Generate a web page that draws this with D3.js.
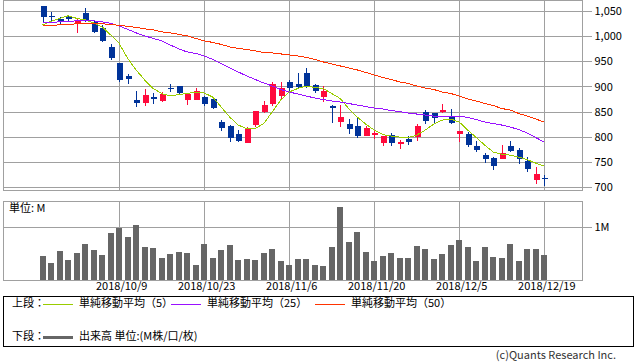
<!DOCTYPE html>
<html>
<head>
<meta charset="utf-8">
<script src="https://cdn.jsdelivr.net/npm/d3@7"></script>
<style>
  body { margin: 0; background: #fff; }
  #svg-container { width: 638px; height: 362px; }
  svg text { font-family: "Noto Sans CJK JP", "DejaVu Sans", sans-serif; font-size: 11px; fill: #000; }
</style>
</head>
<body>
<div id="svg-container"></div>
<script>
////////////////////////////////////////////////////////////////////
////////////////////////////  Data  ////////////////////////////////

const dates = [
  "2018/9/25", "2018/9/26", "2018/9/27", "2018/9/28", "2018/10/1", "2018/10/2", "2018/10/3", "2018/10/4", "2018/10/5",
  "2018/10/9", "2018/10/10", "2018/10/11", "2018/10/12", "2018/10/15", "2018/10/16", "2018/10/17", "2018/10/18", "2018/10/19",
  "2018/10/22", "2018/10/23", "2018/10/24", "2018/10/25", "2018/10/26", "2018/10/29", "2018/10/30", "2018/10/31", "2018/11/1",
  "2018/11/2", "2018/11/5", "2018/11/6", "2018/11/7", "2018/11/8", "2018/11/9", "2018/11/12", "2018/11/13", "2018/11/14",
  "2018/11/15", "2018/11/16", "2018/11/19", "2018/11/20", "2018/11/21", "2018/11/22", "2018/11/26", "2018/11/27", "2018/11/28",
  "2018/11/29", "2018/11/30", "2018/12/3", "2018/12/4", "2018/12/5", "2018/12/6", "2018/12/7", "2018/12/10", "2018/12/11",
  "2018/12/12", "2018/12/13", "2018/12/14", "2018/12/17", "2018/12/18", "2018/12/19"
];

const open = [1061, 1041, 1034, 1038, 1027, 1046, 1029, 1017, 979, 947, 921, 873, 867, 879, 871, 897, 901, 873, 873, 880,
  875, 829, 821, 805, 787, 823, 850, 865, 881, 909, 904, 927, 902, 879, 861, 829, 825, 821, 801, 803,
  787, 803, 785, 795, 799, 849, 847, 849, 842, 805, 805, 781, 763, 757, 755, 781, 773, 751, 713, 718];
const high = [1061, 1049, 1039, 1040, 1036, 1057, 1033, 1023, 985, 947, 925, 891, 895, 886, 889, 904, 901, 885, 897, 881,
  876, 833, 823, 813, 819, 851, 871, 909, 909, 913, 927, 937, 905, 901, 864, 864, 835, 839, 821, 811,
  801, 807, 793, 801, 826, 853, 847, 865, 855, 811, 809, 791, 767, 759, 783, 791, 777, 759, 739, 723];
const low = [1029, 1029, 1023, 1030, 1006, 1029, 1006, 989, 953, 909, 905, 859, 861, 865, 869, 888, 883, 863, 873, 862,
  855, 811, 789, 789, 787, 819, 847, 861, 873, 891, 896, 897, 887, 869, 827, 819, 805, 797, 801, 795,
  781, 781, 775, 783, 791, 825, 827, 847, 825, 789, 779, 769, 747, 733, 755, 769, 745, 729, 705, 701];
const close = [1039, 1039, 1032, 1034, 1033, 1033, 1009, 991, 957, 913, 915, 867, 883, 875, 885, 896, 886, 885, 891, 865,
  857, 817, 797, 791, 815, 851, 863, 905, 897, 897, 898, 898, 891, 891, 860, 839, 815, 801, 817, 807,
  801, 787, 789, 789, 822, 831, 837, 853, 827, 811, 783, 773, 755, 741, 767, 771, 755, 735, 725, 717];

// 出来高 (M)
const volume = [0.45, 0.32, 0.54, 0.375, 0.51, 0.675, 0.56, 0.47, 0.88, 0.975, 0.81, 1.03, 0.62, 0.6, 0.41, 0.49, 0.525, 0.51,
  0.28, 0.675, 0.41, 0.56, 0.66, 0.375, 0.39, 0.375, 0.51, 0.58, 0.36, 0.28, 0.39, 0.39, 0.28, 0.26, 0.62, 1.37,
  0.71, 0.9, 0.525, 0.36, 0.45, 0.51, 0.41, 0.41, 0.64, 0.58, 0.39, 0.49, 0.66, 0.75, 0.62, 0.36, 0.62, 0.43,
  0.41, 0.675, 0.36, 0.58, 0.58, 0.47];

// 単純移動平均
const ma5 = [1023, 1030, 1036, 1041, 1036, 1033, 1027, 1019, 1003, 986, 956, 933, 913, 896, 886, 881, 884, 886,
  889, 887, 879, 859, 839, 823, 816, 816, 826, 849, 873, 889, 896, 901, 898, 896, 886, 876,
  856, 839, 825, 813, 804, 801, 799, 798, 803, 813, 825, 833, 835, 829, 813, 798, 783,
  769, 765, 763, 759, 754, 747, 741];
const ma25 = [1028, 1028, 1029, 1030, 1031, 1031, 1031, 1029, 1026, 1021, 1014, 1007, 1001, 996, 991, 983, 975, 969,
  966, 961, 954, 946, 937, 929, 921, 914, 907, 901, 894, 889, 885, 881, 877, 874, 871, 869,
  866, 863, 860, 857, 855, 852, 850, 847, 845, 843, 841, 841, 841, 841, 838, 834, 829,
  826, 823, 819, 814, 807, 798, 789];
const ma50 = [1021, 1022, 1023, 1024, 1025, 1026, 1026, 1025, 1024, 1022, 1020, 1018, 1015, 1013, 1009, 1007, 1004, 1001,
  996, 991, 988, 984, 979, 976, 974, 971, 968, 967, 965, 963, 961, 958, 954, 949, 945, 941,
  937, 933, 928, 923, 918, 914, 909, 906, 901, 897, 894, 889, 886, 881, 875, 871, 866,
  862, 856, 853, 846, 841, 835, 829];

const priceTicks = [700, 750, 800, 850, 900, 950, 1000, 1050];
const volTicks = [1];
const dateTicks = ["2018/10/9", "2018/10/23", "2018/11/6", "2018/11/20", "2018/12/5", "2018/12/19"];

////////////////////////////////////////////////////////////////////
////////////////////////////  Init  ////////////////////////////////

const width = 638;
const height = 362;
const plot = { left: 3.5, right: 582.5 };
const pricePanel = { top: 0.5, bottom: 190 };
const volPanel = { top: 201.5, bottom: 280 };

const upColor = "#ff0a3c";
const downColor = "#003399";
const gridColor = "#a0a0a0";
const maColors = ["#99cc00", "#9911ff", "#ff3300"];

const svg = d3.select("#svg-container").append("svg")
  .attr("width", width)
  .attr("height", height);

// scale
const x = d3.scalePoint().domain(dates).range([42.6, 544.3]);
const yPrice = d3.scaleLinear().domain([693.4, 1071.6]).range([pricePanel.bottom, pricePanel.top]);
const yVol = d3.scaleLinear().domain([0, 1.476]).range([volPanel.bottom, volPanel.top]);

const candles = dates.map((d, i) => ({
  date: d, o: open[i], h: high[i], l: low[i], c: close[i], v: volume[i]
}));

////////////////////////////////////////////////////////////////////
////////////////////////////  Grid / axes  /////////////////////////

const styleAxis = (g) => {
  g.select(".domain").remove();
  g.selectAll("line").attr("stroke", gridColor).attr("shape-rendering", "crispEdges");
  g.selectAll("text").attr("font-size", null).attr("font-family", null);
};

// price y grid + labels (ticks run across the panel and past its right edge)
svg.append("g")
  .attr("transform", `translate(${plot.left},0)`)
  .call(d3.axisRight(yPrice).tickValues(priceTicks).tickSize(592 - plot.left).tickPadding(2.5).tickFormat(d3.format(",")))
  .call(styleAxis);

// volume y grid + label
svg.append("g")
  .attr("transform", `translate(${plot.left},0)`)
  .call(d3.axisRight(yVol).tickValues(volTicks).tickSize(592 - plot.left).tickPadding(2.5).tickFormat((d) => d + "M"))
  .call(styleAxis);

// vertical grid, price panel
svg.append("g")
  .attr("transform", `translate(0,${pricePanel.bottom})`)
  .call(d3.axisBottom(x).tickValues(dateTicks).tickSize(-(pricePanel.bottom - pricePanel.top)).tickFormat(""))
  .call(styleAxis);

// vertical grid + date labels, volume panel
svg.append("g")
  .attr("transform", `translate(0,${volPanel.bottom})`)
  .call(d3.axisBottom(x).tickValues(dateTicks).tickSize(-(volPanel.bottom - volPanel.top)).tickPadding(2))
  .call(styleAxis)
  .selectAll("text").attr("dx", 2);

// panel frames
[pricePanel, volPanel].forEach((p) => {
  svg.append("rect")
    .attr("x", plot.left)
    .attr("y", p.top)
    .attr("width", plot.right - plot.left)
    .attr("height", p.bottom - p.top)
    .attr("fill", "none")
    .attr("stroke", gridColor)
    .attr("shape-rendering", "crispEdges");
});

////////////////////////////////////////////////////////////////////
////////////////////////////  Volume  //////////////////////////////

svg.append("g")
  .selectAll("rect")
  .data(candles)
  .enter()
  .append("rect")
  .attr("x", (d) => x(d.date) - 3)
  .attr("y", (d) => yVol(d.v))
  .attr("width", 6)
  .attr("height", (d) => yVol(0) - yVol(d.v))
  .attr("fill", "#666666")
  .attr("shape-rendering", "crispEdges");

svg.append("text")
  .attr("x", 9)
  .attr("y", 209.5)
  .attr("dominant-baseline", "middle")
  .text("単位: M");

////////////////////////////////////////////////////////////////////
////////////////////////////  Candles  /////////////////////////////

const candle = svg.append("g")
  .selectAll("g")
  .data(candles)
  .enter()
  .append("g")
  .attr("shape-rendering", "crispEdges");

candle.append("line")
  .attr("x1", (d) => Math.round(x(d.date)) + 0.5)
  .attr("x2", (d) => Math.round(x(d.date)) + 0.5)
  .attr("y1", (d) => yPrice(d.h))
  .attr("y2", (d) => yPrice(d.l))
  .attr("stroke", (d) => (d.c > d.o ? upColor : downColor));

candle.append("rect")
  .attr("x", (d) => Math.round(x(d.date)) - 2.5)
  .attr("y", (d) => yPrice(Math.max(d.o, d.c)))
  .attr("width", 6)
  .attr("height", (d) => Math.max(1.5, Math.abs(yPrice(d.o) - yPrice(d.c))))
  .attr("fill", (d) => (d.c > d.o ? upColor : downColor));

////////////////////////////////////////////////////////////////////
////////////////////////////  Moving averages  /////////////////////

const maLine = d3.line()
  .x((d, i) => x(dates[i]))
  .y((d) => yPrice(d));

[ma5, ma25, ma50].forEach((series, k) => {
  svg.append("path")
    .datum(series)
    .attr("d", maLine)
    .attr("fill", "none")
    .attr("stroke", maColors[k])
    .attr("stroke-width", 1)
    .attr("shape-rendering", "crispEdges"); // stepped look like the original
});

////////////////////////////////////////////////////////////////////
////////////////////////////  Legend  //////////////////////////////

svg.append("rect")
  .attr("x", plot.left)
  .attr("y", 296.5)
  .attr("width", 630)
  .attr("height", 50)
  .attr("fill", "none")
  .attr("stroke", "#000")
  .attr("shape-rendering", "crispEdges");

const maLabels = ["単純移動平均（5）", "単純移動平均（25）", "単純移動平均（50）"];
const legendX = [43, 171, 315];

svg.append("text").attr("x", 12).attr("y", 304).attr("dominant-baseline", "middle").text("上段：");
maLabels.forEach((lab, k) => {
  svg.append("line")
    .attr("x1", legendX[k]).attr("x2", legendX[k] + 30)
    .attr("y1", 304.5).attr("y2", 304.5)
    .attr("stroke", maColors[k]);
  svg.append("text")
    .attr("x", legendX[k] + 36)
    .attr("y", 304)
    .attr("dominant-baseline", "middle")
    .text(lab);
});

svg.append("text").attr("x", 12).attr("y", 337).attr("dominant-baseline", "middle").text("下段：");
svg.append("line")
  .attr("x1", 43).attr("x2", 73)
  .attr("y1", 337.5).attr("y2", 337.5)
  .attr("stroke", "#666666")
  .attr("stroke-width", 3);
svg.append("text").attr("x", 79).attr("y", 337).attr("dominant-baseline", "middle").text("出来高 単位:(M株/口/枚)");

svg.append("text")
  .attr("x", 616)
  .attr("y", 356)
  .attr("text-anchor", "end")
  .attr("dominant-baseline", "middle")
  .style("fill", "#333")
  .text("(c)Quants Research Inc.");
</script>
</body>
</html>
